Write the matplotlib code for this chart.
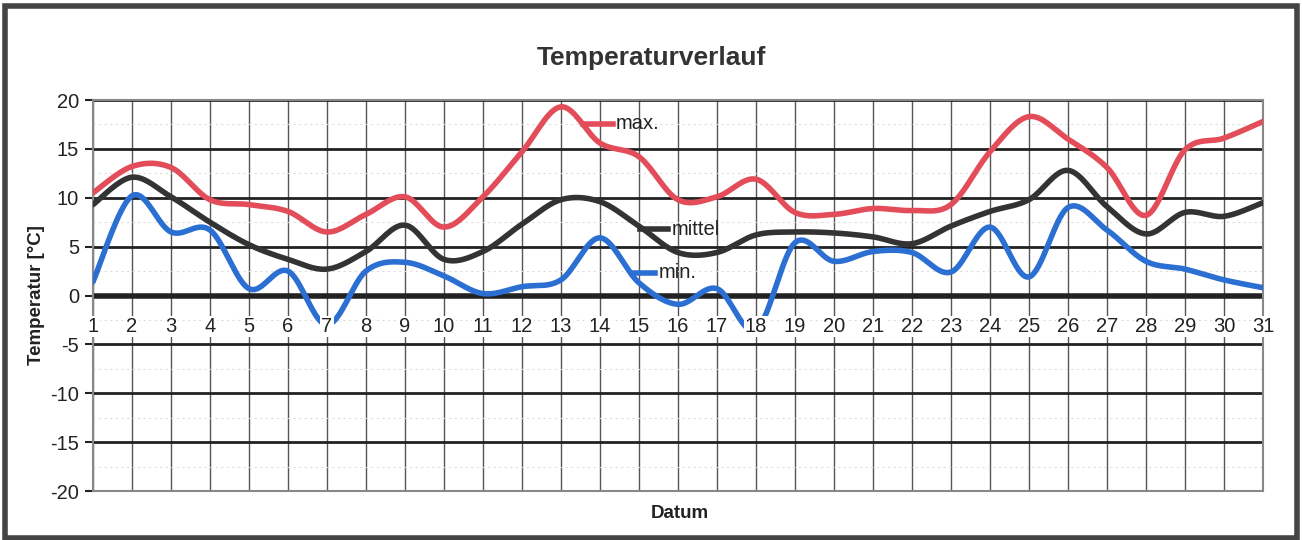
import numpy as np
import matplotlib
matplotlib.use("Agg")
import matplotlib.pyplot as plt
from matplotlib.patches import Rectangle

plt.rcParams['font.family'] = ['Liberation Sans', 'DejaVu Sans']

days = list(range(1, 32))
t_max = [10.5, 13.2, 13.1, 9.8, 9.3, 8.6, 6.5, 8.3, 10.1, 7.0,
         10.1, 14.7, 19.3, 15.6, 14.2, 9.8, 10.1, 11.9, 8.5, 8.3,
         8.9, 8.7, 9.3, 14.7, 18.3, 16.0, 13.1, 8.2, 14.9, 16.1, 17.8]
t_mittel = [9.3, 12.1, 10.1, 7.5, 5.2, 3.7, 2.7, 4.5, 7.2, 3.7,
            4.5, 7.3, 9.8, 9.6, 7.1, 4.4, 4.4, 6.2, 6.5, 6.4,
            6.0, 5.3, 7.1, 8.6, 9.8, 12.8, 9.1, 6.3, 8.5, 8.1, 9.5]
t_min = [1.4, 10.2, 6.5, 6.7, 0.7, 2.5, -3.0, 2.5, 3.4, 2.0,
         0.2, 0.9, 1.6, 5.9, 1.3, -0.9, 0.7, -3.5, 5.4, 3.5,
         4.5, 4.4, 2.4, 7.0, 1.9, 9.0, 6.7, 3.5, 2.7, 1.6, 0.8]
y_ticks = [20, 15, 10, 5, 0, -5, -10, -15, -20]


def smooth(x, y, n=20):
    # excel-like smoothed line (bezier, control points at 1/6)
    x = np.asarray(x, float)
    y = np.asarray(y, float)
    px = np.concatenate([[x[0]], x, [x[-1]]])
    py = np.concatenate([[y[0]], y, [y[-1]]])
    xs, ys = [], []
    t = np.linspace(0, 1, n)
    for i in range(1, len(px) - 2):
        p0 = np.array([px[i], py[i]])
        p3 = np.array([px[i + 1], py[i + 1]])
        p1 = p0 + (np.array([px[i + 1], py[i + 1]]) - np.array([px[i - 1], py[i - 1]])) / 6
        p2 = p3 - (np.array([px[i + 2], py[i + 2]]) - np.array([px[i], py[i]])) / 6
        b = ((1 - t) ** 3)[:, None] * p0 + (3 * (1 - t) ** 2 * t)[:, None] * p1 \
            + (3 * (1 - t) * t ** 2)[:, None] * p2 + (t ** 3)[:, None] * p3
        xs.extend(b[:, 0])
        ys.extend(b[:, 1])
    return xs, ys


fig = plt.figure(figsize=(13.02, 5.4), dpi=100)
ax = fig.add_axes([0.0714, 0.0907, 0.970 - 0.0714, 0.8148 - 0.0907])

ax.set_xlim(1, 31)
ax.set_ylim(-20, 20)

# grid
for d in days:
    ax.axvline(d, color='#555555', lw=1.0, zorder=1)
for v in np.arange(-20, 20, 2.5):
    if v % 5 != 0:
        ax.axhline(v, color='#dddddd', lw=0.8, ls=(0, (2, 3)), zorder=1)
for v in y_ticks:
    ax.axhline(v, color='#222222', lw=4 if v == 0 else 2, zorder=2)

for vals, col in [(t_max, '#e34d5a'), (t_mittel, '#333333'), (t_min, '#2c6fd2')]:
    sx, sy = smooth(days, vals)
    ax.plot(sx, sy, color=col, lw=4, solid_capstyle='round', zorder=3)

# series labels with leader lines
ax.plot([13.56, 14.33], [17.55, 17.55], color='#e34d5a', lw=4, zorder=3)
ax.text(14.4, 17.55, 'max.', fontsize=14.5, va='center', color='#222222', zorder=5)
ax.plot([15.03, 15.74], [6.8, 6.8], color='#333333', lw=4, zorder=3)
ax.text(15.85, 6.8, 'mittel', fontsize=14.5, va='center', color='#222222', zorder=5)
ax.plot([14.85, 15.41], [2.35, 2.35], color='#2c6fd2', lw=4, zorder=3)
ax.text(15.5, 2.35, 'min.', fontsize=14.5, va='center', color='#222222', zorder=5)

# day labels sit on the zero line
for d in days:
    ax.text(d, -3.2, str(d), fontsize=14.5, ha='center', va='center', color='#222222',
            bbox=dict(boxstyle='square,pad=0.05', fc='white', ec='none'), zorder=6)

ax.set_xticks([])
ax.set_yticks(y_ticks)
ax.set_yticklabels([str(v) for v in y_ticks], fontsize=14.5, color='#222222')
ax.tick_params(axis='y', length=6, width=1.5, color='#222222', pad=4)
for s in ax.spines.values():
    s.set_color('#888888')
    s.set_linewidth(1.5)

ax.set_ylabel('Temperatur [°C]', fontsize=13.5, fontweight='bold', color='#222222', labelpad=4)
fig.text(0.522, 0.05, 'Datum', fontsize=13.5, fontweight='bold', ha='center', va='center',
         color='#222222')
fig.text(0.500, 0.893, 'Temperaturverlauf', fontsize=19, fontweight='bold', ha='center', va='center',
         color='#333333')

fig.patches.append(Rectangle((0.004, 0.004), 0.992, 0.984, transform=fig.transFigure,
                             fill=False, ec='#444444', lw=4))

fig.savefig('out.png', dpi=100)
